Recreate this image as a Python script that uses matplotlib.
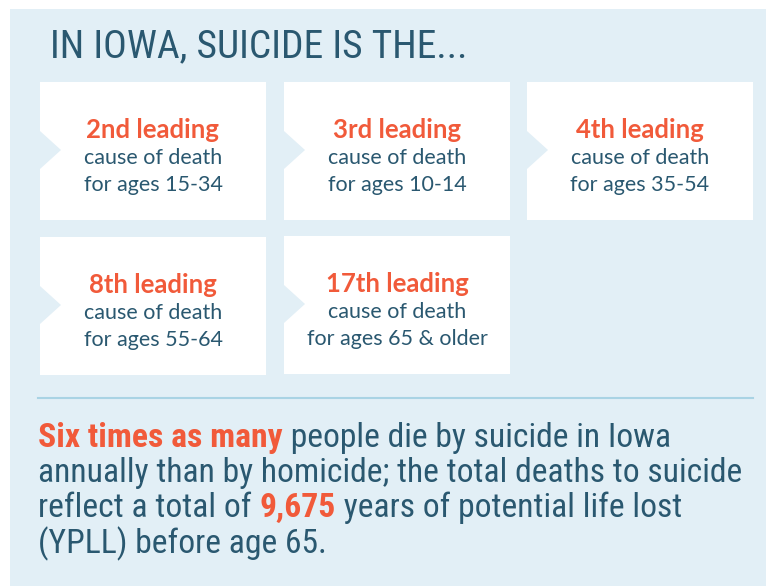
import matplotlib.pyplot as plt
from matplotlib.patches import Polygon, Rectangle

# %% content
title = "IN IOWA, SUICIDE IS THE..."
ranks = ["2nd leading", "3rd leading", "4th leading", "8th leading", "17th leading"]
age_groups = ["15-34", "10-14", "35-54", "55-64", "65 & older"]
paragraph = [
    [("Six times as many", True), (" people die by suicide in Iowa", False)],
    [("annually than by homicide; the total deaths to suicide", False)],
    [("reflect a total of ", False), ("9,675", True), (" years of potential life lost", False)],
    [("(YPLL) before age 65.", False)],
]

# %% style
bg = "#e2eff6"
dark = "#2a5870"
accent = "#f15a3a"
narrow = ["Roboto Condensed", "Liberation Sans Narrow", "Roboto", "DejaVu Sans"]
card_font = ["Lato", "DejaVu Sans"]

W, H = 766, 586
fig = plt.figure(figsize=(W / 100, H / 100), dpi=100)
ax = fig.add_axes([0, 0, 1, 1])
ax.set_xlim(0, W)
ax.set_ylim(H, 0)
ax.axis("off")
renderer = fig.canvas.get_renderer()


def fit_size(s, width, **kw):
    # font size that gives the text the wanted pixel width
    t = fig.text(0, 0, s, fontsize=20, **kw)
    w = t.get_window_extent(renderer=renderer).width
    t.remove()
    return 20 * width / w


ax.add_patch(Rectangle((10, 9), W - 10, H - 9, color=bg, lw=0))

ax.text(50, 47, title, family=narrow, fontsize=fit_size(title, 418, family=narrow),
        color=dark, va="center", ha="left")

# card grid (x0, y0) for each card
card_w, card_h = 226, 138
slots = [(40, 82), (284, 82), (527, 82), (40, 237), (284, 236)]
notch_w, notch_h = 21, 38

for (x0, y0), rank, ages in zip(slots, ranks, age_groups):
    ax.add_patch(Rectangle((x0, y0), card_w, card_h, color="white", lw=0))
    ym = y0 + card_h / 2 - 1
    ax.add_patch(Polygon([(x0, ym - notch_h / 2), (x0 + notch_w, ym), (x0, ym + notch_h / 2)],
                         closed=True, color=bg, lw=0))
    xc = x0 + card_w / 2
    ax.text(xc, ym - 20, rank, family=card_font, fontsize=18.5, fontweight="bold",
            color=accent, ha="center", va="center")
    ax.text(xc, ym + 8, "cause of death", family=card_font, fontsize=15.5,
            color=dark, ha="center", va="center")
    ax.text(xc, ym + 35, "for ages " + ages, family=card_font, fontsize=15.5,
            color=dark, ha="center", va="center")

ax.plot([38, 753], [398, 398], color="#a9d3e4", lw=1.5)

# paragraph with coloured segments
inv = ax.transData.inverted()
para_size = fit_size(paragraph[1][0][0], 703, family=narrow)
line_y = [438, 473, 508, 544]
for segs, y in zip(paragraph, line_y):
    x = 38
    for s, hl in segs:
        t = ax.text(x, y, s, family=narrow, fontsize=para_size, color=accent if hl else dark,
                    fontweight="bold" if hl else "normal", ha="left", va="center")
        bb = t.get_window_extent(renderer=renderer)
        x = inv.transform((bb.x1, bb.y0))[0]

fig.savefig("out.png", dpi=100, facecolor="white")
